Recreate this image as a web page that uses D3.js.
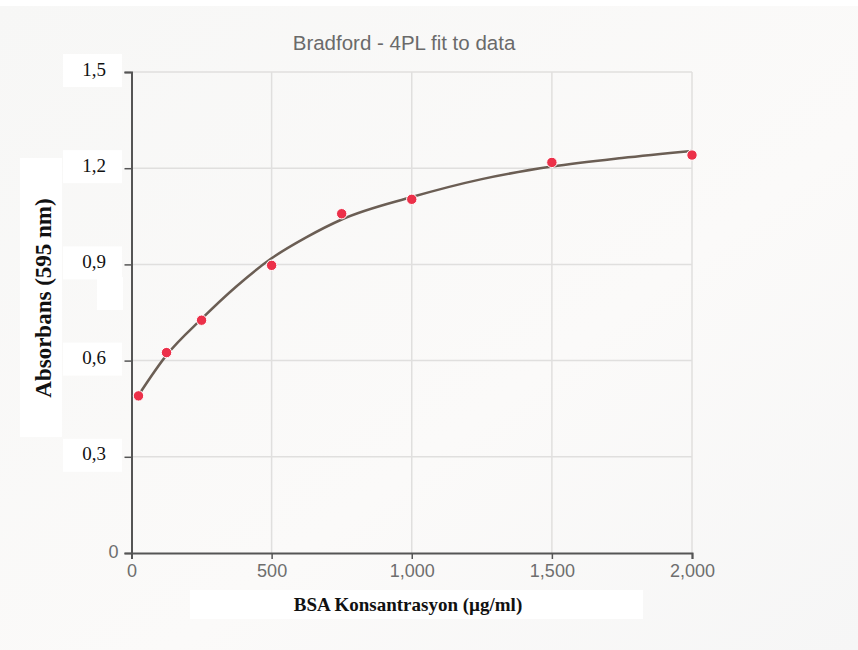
<!DOCTYPE html>
<html>
<head>
<meta charset="utf-8">
<script src="https://cdn.jsdelivr.net/npm/d3@7"></script>
<style>
	body { margin: 0; background: #faf9f8; }
	svg { display: block; }
</style>
</head>
<body>
<div id="chart"></div>
<script>
// measured standards (BSA, µg/ml) and absorbance at 595 nm
const concentrations = [25, 125, 250, 500, 750, 1000, 1500, 2000];
const absorbances = [0.49, 0.625, 0.726, 0.897, 1.058, 1.103, 1.218, 1.241];

// 4PL fitted curve at these concentrations
const fitX = [25, 125, 250, 375, 500, 625, 750, 1000, 1250, 1500, 1750, 2000];
const fitY = [0.492, 0.617, 0.730, 0.832, 0.919, 0.985, 1.040, 1.110, 1.166, 1.205, 1.232, 1.254];

const xTicks = [0, 500, 1000, 1500, 2000];
const yTicks = [0, 0.3, 0.6, 0.9, 1.2, 1.5];

const title = "Bradford - 4PL fit to data";
const xTitle = "BSA Konsantrasyon (µg/ml)";
const yTitle = "Absorbans (595 nm)";

const width = 858;
const height = 650;
const margin = {top: 72, right: 166, bottom: 97, left: 131.5};

const svg = d3.select("#chart")
	.append("svg")
	.attr("width", width)
	.attr("height", height);

// soft background like the screenshot
const grad = svg.append("defs").append("linearGradient")
	.attr("id", "bg")
	.attr("x1", "0").attr("y1", "0").attr("x2", "1").attr("y2", "1");
grad.append("stop").attr("offset", "0").attr("stop-color", "#f7f7f6");
grad.append("stop").attr("offset", "0.6").attr("stop-color", "#fbfaf9");
grad.append("stop").attr("offset", "1").attr("stop-color", "#f6f6f6");
svg.append("rect").attr("width", width).attr("height", height).attr("fill", "url(#bg)");
svg.append("rect").attr("width", width).attr("height", 6).attr("fill", "#ffffff");

const x = d3.scaleLinear()
	.domain([0, 2000])
	.range([margin.left, width - margin.right]);

const y = d3.scaleLinear()
	.domain([0, 1.5])
	.range([height - margin.bottom, margin.top]);

// grid
svg.append("g")
	.selectAll("line")
	.data(xTicks.slice(1))
	.enter()
	.append("line")
	.attr("x1", d => x(d)).attr("x2", d => x(d))
	.attr("y1", y(0)).attr("y2", y(1.5))
	.attr("stroke", "#e0dfde")
	.attr("stroke-width", 1.5);

svg.append("g")
	.selectAll("line")
	.data(yTicks.slice(1))
	.enter()
	.append("line")
	.attr("x1", x(0)).attr("x2", x(2000))
	.attr("y1", d => y(d)).attr("y2", d => y(d))
	.attr("stroke", "#e0dfde")
	.attr("stroke-width", 1.5);

// axes
const xAxis = svg.append("g")
	.attr("transform", `translate(0,${y(0)})`)
	.call(d3.axisBottom(x).tickValues(xTicks).tickSize(6).tickFormat(d3.format(",")));
xAxis.select(".domain").attr("stroke", "#555").attr("stroke-width", 2);
xAxis.selectAll(".tick line").attr("stroke", "#555").attr("stroke-width", 1.5);
xAxis.selectAll(".tick text")
	.attr("fill", "#6e6e6e")
	.attr("font-family", "Arial, 'Liberation Sans', sans-serif")
	.attr("font-size", "18px")
	.attr("dy", "0.85em");

const yAxis = svg.append("g")
	.attr("transform", `translate(${x(0)},0)`)
	.call(d3.axisLeft(y).tickValues(yTicks).tickSize(7).tickFormat(""));
yAxis.select(".domain").attr("stroke", "#555").attr("stroke-width", 2);
yAxis.selectAll(".tick line").attr("stroke", "#555").attr("stroke-width", 1.5);

// original "0" tick label
svg.append("text")
	.text("0")
	.attr("x", x(0) - 13)
	.attr("y", y(0) - 1)
	.attr("dy", "0.35em")
	.attr("text-anchor", "end")
	.attr("fill", "#6e6e6e")
	.attr("font-family", "Arial, 'Liberation Sans', sans-serif")
	.attr("font-size", "18px");

// pasted-over tick labels (white boxes, serif)
const fmt = d => d.toFixed(1).replace(".", ",");
const ylab = svg.append("g");
ylab.selectAll("rect")
	.data(yTicks.slice(1))
	.enter()
	.append("rect")
	.attr("x", 63)
	.attr("y", d => y(d) - 18)
	.attr("width", 59)
	.attr("height", 33)
	.attr("fill", "#ffffff");
ylab.selectAll("text")
	.data(yTicks.slice(1))
	.enter()
	.append("text")
	.text(fmt)
	.attr("x", 94)
	.attr("y", d => y(d) - 3)
	.attr("dy", "0.35em")
	.attr("text-anchor", "middle")
	.attr("fill", "#111")
	.attr("font-family", "'Times New Roman', 'Liberation Serif', serif")
	.attr("font-size", "19px");

// y title box
svg.append("rect")
	.attr("x", 20).attr("y", 158)
	.attr("width", 42).attr("height", 279)
	.attr("fill", "#ffffff");
svg.append("rect")
	.attr("x", 97).attr("y", 277)
	.attr("width", 26).attr("height", 33)
	.attr("fill", "#ffffff");
svg.append("text")
	.text(yTitle)
	.attr("transform", "translate(51,298) rotate(-90)")
	.attr("text-anchor", "middle")
	.attr("fill", "#111")
	.attr("font-family", "'Times New Roman', 'Liberation Serif', serif")
	.attr("font-weight", "bold")
	.attr("font-size", "23px");

// x title box
svg.append("rect")
	.attr("x", 190).attr("y", 590)
	.attr("width", 453).attr("height", 29)
	.attr("fill", "#ffffff");
svg.append("text")
	.text(xTitle)
	.attr("x", 408)
	.attr("y", 611)
	.attr("text-anchor", "middle")
	.attr("fill", "#111")
	.attr("font-family", "'Times New Roman', 'Liberation Serif', serif")
	.attr("font-weight", "bold")
	.attr("font-size", "19px");

// title
svg.append("text")
	.text(title)
	.attr("x", 404)
	.attr("y", 43)
	.attr("dy", "0.35em")
	.attr("text-anchor", "middle")
	.attr("fill", "#6a6a6a")
	.attr("font-family", "Arial, 'Liberation Sans', sans-serif")
	.attr("font-size", "20.5px");

// fitted curve
const fit = fitX.map((d, i) => ({x: d, y: fitY[i]}));
const line = d3.line()
	.x(d => x(d.x))
	.y(d => y(d.y))
	.curve(d3.curveMonotoneX);
svg.append("path")
	.datum(fit)
	.attr("d", line)
	.attr("fill", "none")
	.attr("stroke", "#6b5e54")
	.attr("stroke-width", 2.5);

// data points
const points = concentrations.map((d, i) => ({x: d, y: absorbances[i]}));
svg.selectAll("circle")
	.data(points)
	.enter()
	.append("circle")
	.attr("cx", d => x(d.x))
	.attr("cy", d => y(d.y))
	.attr("r", 5.2)
	.attr("fill", "#ec3049")
	.attr("stroke", "#ffffff")
	.attr("stroke-width", 1);
</script>
</body>
</html>
